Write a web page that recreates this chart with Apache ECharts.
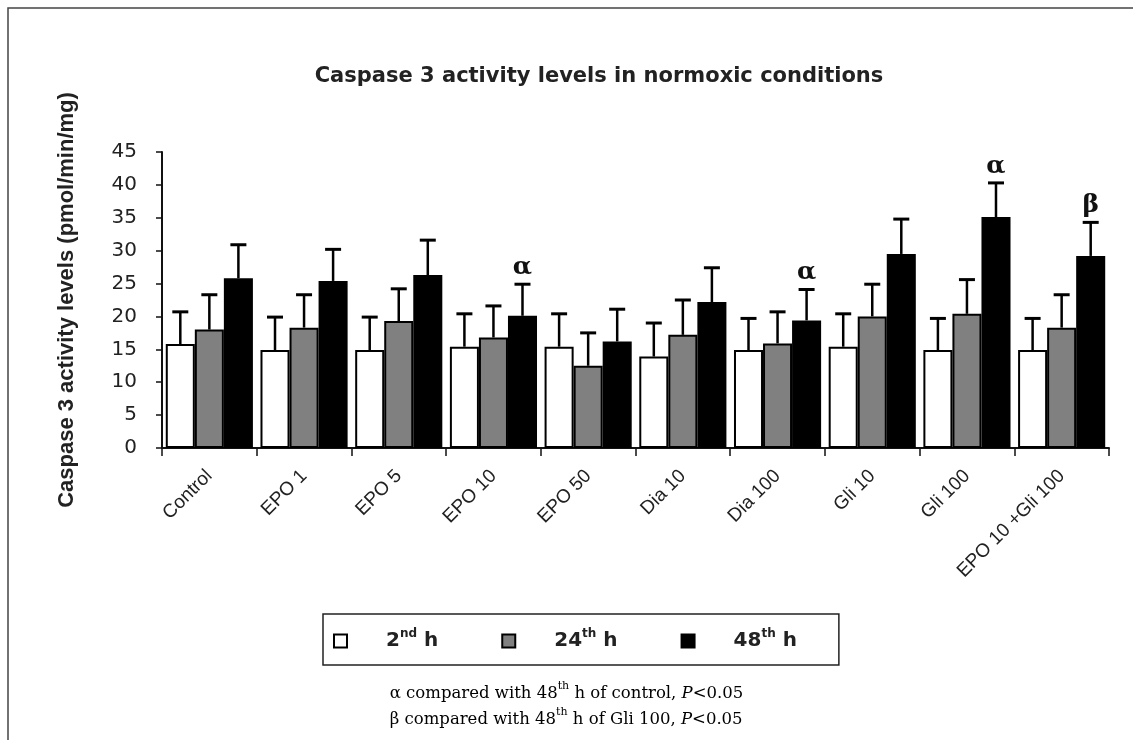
<!DOCTYPE html>
<html>
<head>
<meta charset="utf-8">
<script src="https://cdn.jsdelivr.net/npm/echarts@6/dist/echarts.min.js"></script>
<style>
  html, body { margin: 0; padding: 0; background: #fff; }
  #chart { width: 1133px; height: 740px; }
</style>
</head>
<body>
<div id="chart"></div>
<script>
// Treatment groups on the x axis
const categories = ['Control', 'EPO 1', 'EPO 5', 'EPO 10', 'EPO 50', 'Dia 10', 'Dia 100', 'Gli 10', 'Gli 100', 'EPO 10 +Gli 100'];

// Mean caspase 3 activity (pmol/min/mg) at each time point
const h2Values  = [15.8, 14.9, 14.9, 15.4, 15.4, 13.9, 14.9, 15.4, 14.9, 14.9];
const h24Values = [18.0, 18.3, 19.3, 16.8, 12.5, 17.2, 15.9, 20.0, 20.4, 18.3];
const h48Values = [25.8, 25.4, 26.3, 20.1, 16.2, 22.2, 19.4, 29.5, 35.1, 29.2];

// Standard deviations (upper whiskers)
const h2Err  = [4.9, 5.0, 5.0, 5.0, 5.0, 5.1, 4.8, 5.0, 4.8, 4.8];
const h24Err = [5.3, 5.0, 4.9, 4.8, 5.0, 5.3, 4.8, 4.9, 5.2, 5.0];
const h48Err = [5.1, 4.8, 5.3, 4.8, 4.9, 5.2, 4.7, 5.3, 5.2, 5.1];

// Significance marks above the 48th h bars
const marks48 = ['', '', '', 'α', '', '', 'α', '', 'α', 'β'];

const seriesNames = ['2nd h', '24th h', '48th h'];
const seriesColors = ['#ffffff', '#808080', '#000000'];
const yTicks = { min: 0, max: 45, interval: 5 };

const valueSets = [h2Values, h24Values, h48Values];
const errSets = [h2Err, h24Err, h48Err];
const markSets = [categories.map(() => ''), categories.map(() => ''), marks48];

const GAP = 0.08; // category gap fraction

const chart = echarts.init(document.getElementById('chart'), null, { renderer: 'canvas' });

function errorSeries(s) {
  return {
    type: 'custom',
    z: 5,
    silent: true,
    data: categories.map((c, i) => [i, valueSets[s][i], valueSets[s][i] + errSets[s][i]]),
    encode: { x: 0, y: [1, 2] },
    renderItem: function (params, api) {
      const ci = api.value(0);
      const base = api.coord([ci, api.value(1)]);
      const top = api.coord([ci, api.value(2)]);
      const band = api.size([1, 0])[0];
      const bw = band * (1 - GAP) / 3;
      const x = base[0] + (s - 1) * bw;
      const children = [
        { type: 'line', shape: { x1: x, y1: base[1], x2: x, y2: top[1] },
          style: { stroke: '#000', lineWidth: 2.5 } },
        { type: 'line', shape: { x1: x - 8, y1: top[1], x2: x + 8, y2: top[1] },
          style: { stroke: '#000', lineWidth: 3 } }
      ];
      const mk = markSets[s][params.dataIndex];
      if (mk) {
        children.push({
          type: 'text',
          style: { text: mk, x: x, y: top[1] - 4, align: 'center', verticalAlign: 'bottom',
                   font: 'bold 25px "DejaVu Serif", serif', fill: '#111' }
        });
      }
      return { type: 'group', children: children };
    }
  };
}

const legendLabels = {
  '2nd h': '{gap|}{n|2}{s|nd}{n| h}',
  '24th h': '{gap|}{n|24}{s|th}{n| h}',
  '48th h': '{gap|}{n|48}{s|th}{n| h}'
};

const option = {
  backgroundColor: '#ffffff',
  animation: false,
  title: {
    text: 'Caspase 3 activity levels in normoxic conditions',
    left: 594,
    top: 61,
    textAlign: 'center',
    textStyle: { fontFamily: 'DejaVu Sans', fontWeight: 'bold', fontSize: 21, color: '#222' }
  },
  legend: {
    data: seriesNames,
    left: 323,
    top: 614,
    orient: 'horizontal',
    icon: 'rect',
    itemWidth: 13,
    itemHeight: 13,
    itemGap: 63,
    padding: [14, 42, 14, 10],
    borderColor: '#222',
    borderWidth: 1.5,
    selectedMode: false,
    formatter: name => legendLabels[name],
    textStyle: {
      color: '#222',
      rich: {
        gap: { width: 34 },
        n: { fontFamily: 'DejaVu Sans', fontWeight: 'bold', fontSize: 20, lineHeight: 26, color: '#222' },
        s: { fontFamily: 'DejaVu Sans', fontWeight: 'bold', fontSize: 12, lineHeight: 26, verticalAlign: 'top', color: '#222' }
      }
    }
  },
  grid: { left: 162, right: 24, top: 152, bottom: 292, containLabel: false },
  xAxis: {
    type: 'category',
    data: categories,
    axisLine: { lineStyle: { color: '#111', width: 2 } },
    axisTick: { show: true, length: 8, lineStyle: { color: '#111', width: 1.5 } },
    axisLabel: { rotate: 45, margin: 25, fontFamily: 'Liberation Sans', fontSize: 19, color: '#222', interval: 0 }
  },
  yAxis: {
    type: 'value',
    min: yTicks.min,
    max: yTicks.max,
    interval: yTicks.interval,
    name: 'Caspase 3 activity levels (pmol/min/mg)',
    nameLocation: 'middle',
    nameGap: 84,
    nameTextStyle: { fontFamily: 'Liberation Sans', fontWeight: 'bold', fontSize: 22, color: '#222' },
    axisLine: { show: true, lineStyle: { color: '#111', width: 2 } },
    axisTick: { show: true, length: 6, lineStyle: { color: '#111', width: 1.5 } },
    splitLine: { show: false },
    axisLabel: { margin: 25, fontFamily: 'DejaVu Sans', fontSize: 20, color: '#222' }
  },
  series: seriesNames.map((name, s) => ({
    name: name,
    type: 'bar',
    data: valueSets[s],
    barGap: '0%',
    barCategoryGap: (GAP * 100) + '%',
    itemStyle: { color: seriesColors[s], borderColor: '#000', borderWidth: 2 }
  })).concat([errorSeries(0), errorSeries(1), errorSeries(2)]),
  graphic: [
    {
      type: 'polyline',
      shape: { points: [[8, 740], [8, 8], [1133, 8]] },
      style: { stroke: '#444', lineWidth: 1.5, fill: null }
    },
    {
      type: 'text',
      left: 'center',
      top: 681,
      style: {
        text: '{t|α compared with 48}{s|th}{t| h of control, }{i|P}{t|<0.05}\n{t|β compared with 48}{s|th}{t| h of Gli 100, }{i|P}{t|<0.05}',
        align: 'center',
        rich: {
          t: { fontFamily: 'DejaVu Serif', fontSize: 16.5, lineHeight: 26, color: '#222' },
          i: { fontFamily: 'DejaVu Serif', fontSize: 16.5, fontStyle: 'italic', lineHeight: 26, color: '#222' },
          s: { fontFamily: 'DejaVu Serif', fontSize: 11, lineHeight: 26, verticalAlign: 'top', color: '#222' }
        }
      }
    }
  ]
};

chart.setOption(option);
</script>
</body>
</html>
